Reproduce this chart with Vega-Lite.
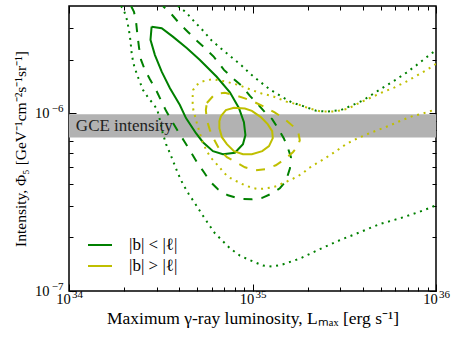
{
  "$schema": "https://vega.github.io/schema/vega-lite/v6.json",
  "width": 367,
  "height": 285,
  "autosize": {"type": "none"},
  "padding": {"left": 69, "top": 6, "right": 21, "bottom": 52},
  "background": "white",
  "config": {
    "view": {"stroke": "black", "strokeWidth": 1.5},
    "axis": {"domain": false, "grid": false, "tickColor": "black", "tickWidth": 1, "labelFont": "Liberation Serif", "labelFontSize": 14.5, "labelColor": "black", "labelFlush": false, "labelOverlap": false, "titleFont": "Liberation Serif", "titleFontSize": 17.5, "titleColor": "black", "titleFontWeight": "normal"},
    "legend": {"labelFont": "Liberation Serif", "labelFontSize": 17, "labelColor": "black"}
  },
  "datasets": {
    "band": [{"lo": 7.3e-7, "hi": 9.85e-7}],
    "note": [{"L": 1.09e34, "I": 8.45e-7, "text": "GCE intensity"}],
    "curves": [
      {"curve": "gs", "region": "|b| < |ℓ|", "style": "solid", "L": 2.82e34, "I": 3.06e-6},
      {"curve": "gs", "region": "|b| < |ℓ|", "style": "solid", "L": 3.20e34, "I": 3.00e-6},
      {"curve": "gs", "region": "|b| < |ℓ|", "style": "solid", "L": 3.68e34, "I": 2.69e-6},
      {"curve": "gs", "region": "|b| < |ℓ|", "style": "solid", "L": 4.38e34, "I": 2.32e-6},
      {"curve": "gs", "region": "|b| < |ℓ|", "style": "solid", "L": 5.17e34, "I": 1.99e-6},
      {"curve": "gs", "region": "|b| < |ℓ|", "style": "solid", "L": 6.38e34, "I": 1.60e-6},
      {"curve": "gs", "region": "|b| < |ℓ|", "style": "solid", "L": 7.53e34, "I": 1.31e-6},
      {"curve": "gs", "region": "|b| < |ℓ|", "style": "solid", "L": 8.43e34, "I": 1.07e-6},
      {"curve": "gs", "region": "|b| < |ℓ|", "style": "solid", "L": 8.98e34, "I": 8.90e-7},
      {"curve": "gs", "region": "|b| < |ℓ|", "style": "solid", "L": 9.15e34, "I": 7.52e-7},
      {"curve": "gs", "region": "|b| < |ℓ|", "style": "solid", "L": 8.87e34, "I": 6.69e-7},
      {"curve": "gs", "region": "|b| < |ℓ|", "style": "solid", "L": 8.02e34, "I": 5.99e-7},
      {"curve": "gs", "region": "|b| < |ℓ|", "style": "solid", "L": 6.90e34, "I": 5.87e-7},
      {"curve": "gs", "region": "|b| < |ℓ|", "style": "solid", "L": 6.09e34, "I": 6.11e-7},
      {"curve": "gs", "region": "|b| < |ℓ|", "style": "solid", "L": 5.37e34, "I": 6.86e-7},
      {"curve": "gs", "region": "|b| < |ℓ|", "style": "solid", "L": 4.92e34, "I": 7.71e-7},
      {"curve": "gs", "region": "|b| < |ℓ|", "style": "solid", "L": 4.34e34, "I": 9.37e-7},
      {"curve": "gs", "region": "|b| < |ℓ|", "style": "solid", "L": 4.02e34, "I": 1.11e-6},
      {"curve": "gs", "region": "|b| < |ℓ|", "style": "solid", "L": 3.55e34, "I": 1.38e-6},
      {"curve": "gs", "region": "|b| < |ℓ|", "style": "solid", "L": 3.20e34, "I": 1.71e-6},
      {"curve": "gs", "region": "|b| < |ℓ|", "style": "solid", "L": 2.94e34, "I": 2.12e-6},
      {"curve": "gs", "region": "|b| < |ℓ|", "style": "solid", "L": 2.78e34, "I": 2.58e-6},
      {"curve": "gs", "region": "|b| < |ℓ|", "style": "solid", "L": 2.82e34, "I": 3.06e-6},

      {"curve": "ys", "region": "|b| > |ℓ|", "style": "solid", "L": 6.73e34, "I": 9.62e-7},
      {"curve": "ys", "region": "|b| > |ℓ|", "style": "solid", "L": 7.16e34, "I": 1.04e-6},
      {"curve": "ys", "region": "|b| > |ℓ|", "style": "solid", "L": 7.92e34, "I": 1.07e-6},
      {"curve": "ys", "region": "|b| > |ℓ|", "style": "solid", "L": 9.09e34, "I": 1.06e-6},
      {"curve": "ys", "region": "|b| > |ℓ|", "style": "solid", "L": 9.92e34, "I": 1.03e-6},
      {"curve": "ys", "region": "|b| > |ℓ|", "style": "solid", "L": 1.11e35, "I": 9.50e-7},
      {"curve": "ys", "region": "|b| > |ℓ|", "style": "solid", "L": 1.21e35, "I": 8.67e-7},
      {"curve": "ys", "region": "|b| > |ℓ|", "style": "solid", "L": 1.28e35, "I": 7.92e-7},
      {"curve": "ys", "region": "|b| > |ℓ|", "style": "solid", "L": 1.29e35, "I": 7.23e-7},
      {"curve": "ys", "region": "|b| > |ℓ|", "style": "solid", "L": 1.23e35, "I": 6.52e-7},
      {"curve": "ys", "region": "|b| > |ℓ|", "style": "solid", "L": 1.13e35, "I": 6.11e-7},
      {"curve": "ys", "region": "|b| > |ℓ|", "style": "solid", "L": 9.92e34, "I": 5.87e-7},
      {"curve": "ys", "region": "|b| > |ℓ|", "style": "solid", "L": 8.87e34, "I": 5.87e-7},
      {"curve": "ys", "region": "|b| > |ℓ|", "style": "solid", "L": 7.92e34, "I": 6.11e-7},
      {"curve": "ys", "region": "|b| > |ℓ|", "style": "solid", "L": 7.25e34, "I": 6.69e-7},
      {"curve": "ys", "region": "|b| > |ℓ|", "style": "solid", "L": 6.81e34, "I": 7.32e-7},
      {"curve": "ys", "region": "|b| > |ℓ|", "style": "solid", "L": 6.60e34, "I": 8.23e-7},
      {"curve": "ys", "region": "|b| > |ℓ|", "style": "solid", "L": 6.60e34, "I": 9.01e-7},
      {"curve": "ys", "region": "|b| > |ℓ|", "style": "solid", "L": 6.73e34, "I": 9.62e-7},

      {"curve": "gd", "region": "|b| < |ℓ|", "style": "dashed", "L": 2.18e34, "I": 4.0e-6},
      {"curve": "gd", "region": "|b| < |ℓ|", "style": "dashed", "L": 2.26e34, "I": 3.71e-6},
      {"curve": "gd", "region": "|b| < |ℓ|", "style": "dashed", "L": 2.32e34, "I": 3.26e-6},
      {"curve": "gd", "region": "|b| < |ℓ|", "style": "dashed", "L": 2.36e34, "I": 2.75e-6},
      {"curve": "gd", "region": "|b| < |ℓ|", "style": "dashed", "L": 2.41e34, "I": 2.32e-6},
      {"curve": "gd", "region": "|b| < |ℓ|", "style": "dashed", "L": 2.47e34, "I": 1.99e-6},
      {"curve": "gd", "region": "|b| < |ℓ|", "style": "dashed", "L": 2.59e34, "I": 1.75e-6},
      {"curve": "gd", "region": "|b| < |ℓ|", "style": "dashed", "L": 2.76e34, "I": 1.55e-6},
      {"curve": "gd", "region": "|b| < |ℓ|", "style": "dashed", "L": 2.98e34, "I": 1.35e-6},
      {"curve": "gd", "region": "|b| < |ℓ|", "style": "dashed", "L": 3.17e34, "I": 1.18e-6},
      {"curve": "gd", "region": "|b| < |ℓ|", "style": "dashed", "L": 3.38e34, "I": 1.03e-6},
      {"curve": "gd", "region": "|b| < |ℓ|", "style": "dashed", "L": 3.64e34, "I": 9.01e-7},
      {"curve": "gd", "region": "|b| < |ℓ|", "style": "dashed", "L": 3.92e34, "I": 7.92e-7},
      {"curve": "gd", "region": "|b| < |ℓ|", "style": "dashed", "L": 4.28e34, "I": 6.86e-7},
      {"curve": "gd", "region": "|b| < |ℓ|", "style": "dashed", "L": 4.62e34, "I": 6.03e-7},
      {"curve": "gd", "region": "|b| < |ℓ|", "style": "dashed", "L": 4.98e34, "I": 5.30e-7},
      {"curve": "gd", "region": "|b| < |ℓ|", "style": "dashed", "L": 5.44e34, "I": 4.65e-7},
      {"curve": "gd", "region": "|b| < |ℓ|", "style": "dashed", "L": 5.86e34, "I": 4.14e-7},
      {"curve": "gd", "region": "|b| < |ℓ|", "style": "dashed", "L": 6.48e34, "I": 3.73e-7},
      {"curve": "gd", "region": "|b| < |ℓ|", "style": "dashed", "L": 7.35e34, "I": 3.45e-7},
      {"curve": "gd", "region": "|b| < |ℓ|", "style": "dashed", "L": 8.54e34, "I": 3.30e-7},
      {"curve": "gd", "region": "|b| < |ℓ|", "style": "dashed", "L": 9.92e34, "I": 3.28e-7},
      {"curve": "gd", "region": "|b| < |ℓ|", "style": "dashed", "L": 1.13e35, "I": 3.34e-7},
      {"curve": "gd", "region": "|b| < |ℓ|", "style": "dashed", "L": 1.28e35, "I": 3.54e-7},
      {"curve": "gd", "region": "|b| < |ℓ|", "style": "dashed", "L": 1.41e35, "I": 3.78e-7},
      {"curve": "gd", "region": "|b| < |ℓ|", "style": "dashed", "L": 1.52e35, "I": 4.14e-7},
      {"curve": "gd", "region": "|b| < |ℓ|", "style": "dashed", "L": 1.60e35, "I": 4.90e-7},
      {"curve": "gd", "region": "|b| < |ℓ|", "style": "dashed", "L": 1.62e35, "I": 5.65e-7},
      {"curve": "gd", "region": "|b| < |ℓ|", "style": "dashed", "L": 1.56e35, "I": 6.35e-7},
      {"curve": "gd", "region": "|b| < |ℓ|", "style": "dashed", "L": 1.48e35, "I": 7.23e-7},
      {"curve": "gd", "region": "|b| < |ℓ|", "style": "dashed", "L": 1.375e35, "I": 8.23e-7},
      {"curve": "gd", "region": "|b| < |ℓ|", "style": "dashed", "L": 1.28e35, "I": 9.25e-7},
      {"curve": "gd", "region": "|b| < |ℓ|", "style": "dashed", "L": 1.17e35, "I": 1.01e-6},
      {"curve": "gd", "region": "|b| < |ℓ|", "style": "dashed", "L": 1.07e35, "I": 1.12e-6},
      {"curve": "gd", "region": "|b| < |ℓ|", "style": "dashed", "L": 9.68e34, "I": 1.25e-6},
      {"curve": "gd", "region": "|b| < |ℓ|", "style": "dashed", "L": 8.76e34, "I": 1.42e-6},
      {"curve": "gd", "region": "|b| < |ℓ|", "style": "dashed", "L": 7.82e34, "I": 1.57e-6},
      {"curve": "gd", "region": "|b| < |ℓ|", "style": "dashed", "L": 6.99e34, "I": 1.75e-6},
      {"curve": "gd", "region": "|b| < |ℓ|", "style": "dashed", "L": 6.16e34, "I": 2.07e-6},
      {"curve": "gd", "region": "|b| < |ℓ|", "style": "dashed", "L": 5.44e34, "I": 2.35e-6},
      {"curve": "gd", "region": "|b| < |ℓ|", "style": "dashed", "L": 4.92e34, "I": 2.58e-6},
      {"curve": "gd", "region": "|b| < |ℓ|", "style": "dashed", "L": 4.45e34, "I": 2.86e-6},
      {"curve": "gd", "region": "|b| < |ℓ|", "style": "dashed", "L": 4.02e34, "I": 3.17e-6},
      {"curve": "gd", "region": "|b| < |ℓ|", "style": "dashed", "L": 3.64e34, "I": 3.57e-6},
      {"curve": "gd", "region": "|b| < |ℓ|", "style": "dashed", "L": 3.25e34, "I": 4.0e-6},

      {"curve": "yd", "region": "|b| > |ℓ|", "style": "dashed", "L": 5.64e34, "I": 1.14e-6},
      {"curve": "yd", "region": "|b| > |ℓ|", "style": "dashed", "L": 6.24e34, "I": 1.28e-6},
      {"curve": "yd", "region": "|b| > |ℓ|", "style": "dashed", "L": 7.07e34, "I": 1.30e-6},
      {"curve": "yd", "region": "|b| > |ℓ|", "style": "dashed", "L": 8.02e34, "I": 1.26e-6},
      {"curve": "yd", "region": "|b| > |ℓ|", "style": "dashed", "L": 9.09e34, "I": 1.21e-6},
      {"curve": "yd", "region": "|b| > |ℓ|", "style": "dashed", "L": 1.03e35, "I": 1.15e-6},
      {"curve": "yd", "region": "|b| > |ℓ|", "style": "dashed", "L": 1.17e35, "I": 1.08e-6},
      {"curve": "yd", "region": "|b| > |ℓ|", "style": "dashed", "L": 1.32e35, "I": 1.01e-6},
      {"curve": "yd", "region": "|b| > |ℓ|", "style": "dashed", "L": 1.50e35, "I": 9.25e-7},
      {"curve": "yd", "region": "|b| > |ℓ|", "style": "dashed", "L": 1.66e35, "I": 8.45e-7},
      {"curve": "yd", "region": "|b| > |ℓ|", "style": "dashed", "L": 1.78e35, "I": 7.72e-7},
      {"curve": "yd", "region": "|b| > |ℓ|", "style": "dashed", "L": 1.81e35, "I": 7.05e-7},
      {"curve": "yd", "region": "|b| > |ℓ|", "style": "dashed", "L": 1.77e35, "I": 6.52e-7},
      {"curve": "yd", "region": "|b| > |ℓ|", "style": "dashed", "L": 1.66e35, "I": 6.03e-7},
      {"curve": "yd", "region": "|b| > |ℓ|", "style": "dashed", "L": 1.50e35, "I": 5.51e-7},
      {"curve": "yd", "region": "|b| > |ℓ|", "style": "dashed", "L": 1.34e35, "I": 5.09e-7},
      {"curve": "yd", "region": "|b| > |ℓ|", "style": "dashed", "L": 1.17e35, "I": 4.84e-7},
      {"curve": "yd", "region": "|b| > |ℓ|", "style": "dashed", "L": 1.03e35, "I": 4.77e-7},
      {"curve": "yd", "region": "|b| > |ℓ|", "style": "dashed", "L": 9.09e34, "I": 4.96e-7},
      {"curve": "yd", "region": "|b| > |ℓ|", "style": "dashed", "L": 8.12e34, "I": 5.30e-7},
      {"curve": "yd", "region": "|b| > |ℓ|", "style": "dashed", "L": 7.25e34, "I": 5.65e-7},
      {"curve": "yd", "region": "|b| > |ℓ|", "style": "dashed", "L": 6.64e34, "I": 6.19e-7},
      {"curve": "yd", "region": "|b| > |ℓ|", "style": "dashed", "L": 6.16e34, "I": 7.14e-7},
      {"curve": "yd", "region": "|b| > |ℓ|", "style": "dashed", "L": 5.86e34, "I": 8.02e-7},
      {"curve": "yd", "region": "|b| > |ℓ|", "style": "dashed", "L": 5.64e34, "I": 9.13e-7},
      {"curve": "yd", "region": "|b| > |ℓ|", "style": "dashed", "L": 5.57e34, "I": 1.04e-6},
      {"curve": "yd", "region": "|b| > |ℓ|", "style": "dashed", "L": 5.64e34, "I": 1.14e-6},

      {"curve": "gt1", "region": "|b| < |ℓ|", "style": "dotted", "L": 1.92e34, "I": 4.0e-6},
      {"curve": "gt1", "region": "|b| < |ℓ|", "style": "dotted", "L": 1.99e34, "I": 3.80e-6},
      {"curve": "gt1", "region": "|b| < |ℓ|", "style": "dotted", "L": 2.07e34, "I": 3.34e-6},
      {"curve": "gt1", "region": "|b| < |ℓ|", "style": "dotted", "L": 2.12e34, "I": 2.94e-6},
      {"curve": "gt1", "region": "|b| < |ℓ|", "style": "dotted", "L": 2.16e34, "I": 2.58e-6},
      {"curve": "gt1", "region": "|b| < |ℓ|", "style": "dotted", "L": 2.20e34, "I": 2.12e-6},
      {"curve": "gt1", "region": "|b| < |ℓ|", "style": "dotted", "L": 2.27e34, "I": 1.82e-6},
      {"curve": "gt1", "region": "|b| < |ℓ|", "style": "dotted", "L": 2.39e34, "I": 1.57e-6},
      {"curve": "gt1", "region": "|b| < |ℓ|", "style": "dotted", "L": 2.53e34, "I": 1.35e-6},
      {"curve": "gt1", "region": "|b| < |ℓ|", "style": "dotted", "L": 2.73e34, "I": 1.20e-6},
      {"curve": "gt1", "region": "|b| < |ℓ|", "style": "dotted", "L": 2.90e34, "I": 1.12e-6},
      {"curve": "gt1", "region": "|b| < |ℓ|", "style": "dotted", "L": 3.03e34, "I": 1.04e-6},
      {"curve": "gt1", "region": "|b| < |ℓ|", "style": "dotted", "L": 3.13e34, "I": 9.13e-7},
      {"curve": "gt1", "region": "|b| < |ℓ|", "style": "dotted", "L": 3.23e34, "I": 7.82e-7},
      {"curve": "gt1", "region": "|b| < |ℓ|", "style": "dotted", "L": 3.38e34, "I": 6.69e-7},
      {"curve": "gt1", "region": "|b| < |ℓ|", "style": "dotted", "L": 3.55e34, "I": 5.95e-7},
      {"curve": "gt1", "region": "|b| < |ℓ|", "style": "dotted", "L": 3.73e34, "I": 5.23e-7},
      {"curve": "gt1", "region": "|b| < |ℓ|", "style": "dotted", "L": 3.92e34, "I": 4.59e-7},
      {"curve": "gt1", "region": "|b| < |ℓ|", "style": "dotted", "L": 4.18e34, "I": 3.98e-7},
      {"curve": "gt1", "region": "|b| < |ℓ|", "style": "dotted", "L": 4.50e34, "I": 3.50e-7},
      {"curve": "gt1", "region": "|b| < |ℓ|", "style": "dotted", "L": 4.86e34, "I": 3.11e-7},
      {"curve": "gt1", "region": "|b| < |ℓ|", "style": "dotted", "L": 5.28e34, "I": 2.72e-7},
      {"curve": "gt1", "region": "|b| < |ℓ|", "style": "dotted", "L": 5.74e34, "I": 2.39e-7},
      {"curve": "gt1", "region": "|b| < |ℓ|", "style": "dotted", "L": 6.24e34, "I": 2.11e-7},
      {"curve": "gt1", "region": "|b| < |ℓ|", "style": "dotted", "L": 6.81e34, "I": 1.93e-7},
      {"curve": "gt1", "region": "|b| < |ℓ|", "style": "dotted", "L": 7.53e34, "I": 1.74e-7},
      {"curve": "gt1", "region": "|b| < |ℓ|", "style": "dotted", "L": 8.54e34, "I": 1.58e-7},
      {"curve": "gt1", "region": "|b| < |ℓ|", "style": "dotted", "L": 9.68e34, "I": 1.49e-7},
      {"curve": "gt1", "region": "|b| < |ℓ|", "style": "dotted", "L": 1.14e35, "I": 1.39e-7},
      {"curve": "gt1", "region": "|b| < |ℓ|", "style": "dotted", "L": 1.28e35, "I": 1.37e-7},
      {"curve": "gt1", "region": "|b| < |ℓ|", "style": "dotted", "L": 1.46e35, "I": 1.41e-7},
      {"curve": "gt1", "region": "|b| < |ℓ|", "style": "dotted", "L": 1.81e35, "I": 1.52e-7},
      {"curve": "gt1", "region": "|b| < |ℓ|", "style": "dotted", "L": 2.33e35, "I": 1.72e-7},
      {"curve": "gt1", "region": "|b| < |ℓ|", "style": "dotted", "L": 2.99e35, "I": 1.93e-7},
      {"curve": "gt1", "region": "|b| < |ℓ|", "style": "dotted", "L": 3.85e35, "I": 2.14e-7},
      {"curve": "gt1", "region": "|b| < |ℓ|", "style": "dotted", "L": 4.94e35, "I": 2.38e-7},
      {"curve": "gt1", "region": "|b| < |ℓ|", "style": "dotted", "L": 6.35e35, "I": 2.56e-7},
      {"curve": "gt1", "region": "|b| < |ℓ|", "style": "dotted", "L": 8.16e35, "I": 2.79e-7},
      {"curve": "gt1", "region": "|b| < |ℓ|", "style": "dotted", "L": 1.0e36, "I": 3.03e-7},

      {"curve": "gt2", "region": "|b| < |ℓ|", "style": "dotted", "L": 3.92e34, "I": 4.0e-6},
      {"curve": "gt2", "region": "|b| < |ℓ|", "style": "dotted", "L": 4.34e34, "I": 3.69e-6},
      {"curve": "gt2", "region": "|b| < |ℓ|", "style": "dotted", "L": 4.86e34, "I": 3.24e-6},
      {"curve": "gt2", "region": "|b| < |ℓ|", "style": "dotted", "L": 5.39e34, "I": 2.90e-6},
      {"curve": "gt2", "region": "|b| < |ℓ|", "style": "dotted", "L": 5.99e34, "I": 2.56e-6},
      {"curve": "gt2", "region": "|b| < |ℓ|", "style": "dotted", "L": 6.79e34, "I": 2.29e-6},
      {"curve": "gt2", "region": "|b| < |ℓ|", "style": "dotted", "L": 7.69e34, "I": 2.06e-6},
      {"curve": "gt2", "region": "|b| < |ℓ|", "style": "dotted", "L": 8.72e34, "I": 1.85e-6},
      {"curve": "gt2", "region": "|b| < |ℓ|", "style": "dotted", "L": 9.68e34, "I": 1.67e-6},
      {"curve": "gt2", "region": "|b| < |ℓ|", "style": "dotted", "L": 1.10e35, "I": 1.50e-6},
      {"curve": "gt2", "region": "|b| < |ℓ|", "style": "dotted", "L": 1.24e35, "I": 1.36e-6},
      {"curve": "gt2", "region": "|b| < |ℓ|", "style": "dotted", "L": 1.44e35, "I": 1.24e-6},
      {"curve": "gt2", "region": "|b| < |ℓ|", "style": "dotted", "L": 1.63e35, "I": 1.15e-6},
      {"curve": "gt2", "region": "|b| < |ℓ|", "style": "dotted", "L": 1.91e35, "I": 1.09e-6},
      {"curve": "gt2", "region": "|b| < |ℓ|", "style": "dotted", "L": 2.23e35, "I": 1.03e-6},
      {"curve": "gt2", "region": "|b| < |ℓ|", "style": "dotted", "L": 2.57e35, "I": 1.02e-6},
      {"curve": "gt2", "region": "|b| < |ℓ|", "style": "dotted", "L": 3.03e35, "I": 1.04e-6},
      {"curve": "gt2", "region": "|b| < |ℓ|", "style": "dotted", "L": 3.52e35, "I": 1.11e-6},
      {"curve": "gt2", "region": "|b| < |ℓ|", "style": "dotted", "L": 4.01e35, "I": 1.18e-6},
      {"curve": "gt2", "region": "|b| < |ℓ|", "style": "dotted", "L": 4.58e35, "I": 1.29e-6},
      {"curve": "gt2", "region": "|b| < |ℓ|", "style": "dotted", "L": 5.26e35, "I": 1.41e-6},
      {"curve": "gt2", "region": "|b| < |ℓ|", "style": "dotted", "L": 6.04e35, "I": 1.54e-6},
      {"curve": "gt2", "region": "|b| < |ℓ|", "style": "dotted", "L": 6.91e35, "I": 1.69e-6},
      {"curve": "gt2", "region": "|b| < |ℓ|", "style": "dotted", "L": 7.83e35, "I": 1.86e-6},
      {"curve": "gt2", "region": "|b| < |ℓ|", "style": "dotted", "L": 8.88e35, "I": 2.06e-6},
      {"curve": "gt2", "region": "|b| < |ℓ|", "style": "dotted", "L": 1.0e36, "I": 2.26e-6},

      {"curve": "yt", "region": "|b| > |ℓ|", "style": "dotted", "L": 1.0e36, "I": 1.89e-6},
      {"curve": "yt", "region": "|b| > |ℓ|", "style": "dotted", "L": 8.99e35, "I": 1.76e-6},
      {"curve": "yt", "region": "|b| > |ℓ|", "style": "dotted", "L": 7.83e35, "I": 1.62e-6},
      {"curve": "yt", "region": "|b| > |ℓ|", "style": "dotted", "L": 6.85e35, "I": 1.50e-6},
      {"curve": "yt", "region": "|b| > |ℓ|", "style": "dotted", "L": 5.91e35, "I": 1.39e-6},
      {"curve": "yt", "region": "|b| > |ℓ|", "style": "dotted", "L": 5.11e35, "I": 1.31e-6},
      {"curve": "yt", "region": "|b| > |ℓ|", "style": "dotted", "L": 4.40e35, "I": 1.22e-6},
      {"curve": "yt", "region": "|b| > |ℓ|", "style": "dotted", "L": 3.81e35, "I": 1.14e-6},
      {"curve": "yt", "region": "|b| > |ℓ|", "style": "dotted", "L": 3.32e35, "I": 1.06e-6},
      {"curve": "yt", "region": "|b| > |ℓ|", "style": "dotted", "L": 2.81e35, "I": 1.02e-6},
      {"curve": "yt", "region": "|b| > |ℓ|", "style": "dotted", "L": 2.38e35, "I": 1.02e-6},
      {"curve": "yt", "region": "|b| > |ℓ|", "style": "dotted", "L": 2.05e35, "I": 1.06e-6},
      {"curve": "yt", "region": "|b| > |ℓ|", "style": "dotted", "L": 1.81e35, "I": 1.11e-6},
      {"curve": "yt", "region": "|b| > |ℓ|", "style": "dotted", "L": 1.53e35, "I": 1.16e-6},
      {"curve": "yt", "region": "|b| > |ℓ|", "style": "dotted", "L": 1.30e35, "I": 1.24e-6},
      {"curve": "yt", "region": "|b| > |ℓ|", "style": "dotted", "L": 1.12e35, "I": 1.29e-6},
      {"curve": "yt", "region": "|b| > |ℓ|", "style": "dotted", "L": 9.68e34, "I": 1.36e-6},
      {"curve": "yt", "region": "|b| > |ℓ|", "style": "dotted", "L": 8.36e34, "I": 1.44e-6},
      {"curve": "yt", "region": "|b| > |ℓ|", "style": "dotted", "L": 7.23e34, "I": 1.50e-6},
      {"curve": "yt", "region": "|b| > |ℓ|", "style": "dotted", "L": 6.11e34, "I": 1.55e-6},
      {"curve": "yt", "region": "|b| > |ℓ|", "style": "dotted", "L": 5.62e34, "I": 1.53e-6},
      {"curve": "yt", "region": "|b| > |ℓ|", "style": "dotted", "L": 5.28e34, "I": 1.50e-6},
      {"curve": "yt", "region": "|b| > |ℓ|", "style": "dotted", "L": 4.96e34, "I": 1.44e-6},
      {"curve": "yt", "region": "|b| > |ℓ|", "style": "dotted", "L": 4.75e34, "I": 1.35e-6},
      {"curve": "yt", "region": "|b| > |ℓ|", "style": "dotted", "L": 4.72e34, "I": 1.24e-6},
      {"curve": "yt", "region": "|b| > |ℓ|", "style": "dotted", "L": 4.72e34, "I": 1.13e-6},
      {"curve": "yt", "region": "|b| > |ℓ|", "style": "dotted", "L": 4.76e34, "I": 1.04e-6},
      {"curve": "yt", "region": "|b| > |ℓ|", "style": "dotted", "L": 4.86e34, "I": 9.62e-7},
      {"curve": "yt", "region": "|b| > |ℓ|", "style": "dotted", "L": 4.98e34, "I": 8.75e-7},
      {"curve": "yt", "region": "|b| > |ℓ|", "style": "dotted", "L": 5.17e34, "I": 7.68e-7},
      {"curve": "yt", "region": "|b| > |ℓ|", "style": "dotted", "L": 5.37e34, "I": 6.78e-7},
      {"curve": "yt", "region": "|b| > |ℓ|", "style": "dotted", "L": 5.62e34, "I": 6.15e-7},
      {"curve": "yt", "region": "|b| > |ℓ|", "style": "dotted", "L": 5.90e34, "I": 5.65e-7},
      {"curve": "yt", "region": "|b| > |ℓ|", "style": "dotted", "L": 6.24e34, "I": 5.30e-7},
      {"curve": "yt", "region": "|b| > |ℓ|", "style": "dotted", "L": 6.59e34, "I": 4.98e-7},
      {"curve": "yt", "region": "|b| > |ℓ|", "style": "dotted", "L": 6.92e34, "I": 4.67e-7},
      {"curve": "yt", "region": "|b| > |ℓ|", "style": "dotted", "L": 7.37e34, "I": 4.38e-7},
      {"curve": "yt", "region": "|b| > |ℓ|", "style": "dotted", "L": 7.85e34, "I": 4.23e-7},
      {"curve": "yt", "region": "|b| > |ℓ|", "style": "dotted", "L": 8.47e34, "I": 4.07e-7},
      {"curve": "yt", "region": "|b| > |ℓ|", "style": "dotted", "L": 9.09e34, "I": 3.93e-7},
      {"curve": "yt", "region": "|b| > |ℓ|", "style": "dotted", "L": 9.89e34, "I": 3.81e-7},
      {"curve": "yt", "region": "|b| > |ℓ|", "style": "dotted", "L": 1.05e35, "I": 3.76e-7},
      {"curve": "yt", "region": "|b| > |ℓ|", "style": "dotted", "L": 1.14e35, "I": 3.76e-7},
      {"curve": "yt", "region": "|b| > |ℓ|", "style": "dotted", "L": 1.24e35, "I": 3.80e-7},
      {"curve": "yt", "region": "|b| > |ℓ|", "style": "dotted", "L": 1.35e35, "I": 3.88e-7},
      {"curve": "yt", "region": "|b| > |ℓ|", "style": "dotted", "L": 1.45e35, "I": 4.02e-7},
      {"curve": "yt", "region": "|b| > |ℓ|", "style": "dotted", "L": 1.55e35, "I": 4.14e-7},
      {"curve": "yt", "region": "|b| > |ℓ|", "style": "dotted", "L": 1.67e35, "I": 4.29e-7},
      {"curve": "yt", "region": "|b| > |ℓ|", "style": "dotted", "L": 1.77e35, "I": 4.42e-7},
      {"curve": "yt", "region": "|b| > |ℓ|", "style": "dotted", "L": 1.89e35, "I": 4.61e-7},
      {"curve": "yt", "region": "|b| > |ℓ|", "style": "dotted", "L": 2.01e35, "I": 4.88e-7},
      {"curve": "yt", "region": "|b| > |ℓ|", "style": "dotted", "L": 2.23e35, "I": 5.21e-7},
      {"curve": "yt", "region": "|b| > |ℓ|", "style": "dotted", "L": 2.48e35, "I": 5.56e-7},
      {"curve": "yt", "region": "|b| > |ℓ|", "style": "dotted", "L": 2.81e35, "I": 6.05e-7},
      {"curve": "yt", "region": "|b| > |ℓ|", "style": "dotted", "L": 3.25e35, "I": 6.71e-7},
      {"curve": "yt", "region": "|b| > |ℓ|", "style": "dotted", "L": 3.75e35, "I": 7.23e-7},
      {"curve": "yt", "region": "|b| > |ℓ|", "style": "dotted", "L": 4.36e35, "I": 7.72e-7},
      {"curve": "yt", "region": "|b| > |ℓ|", "style": "dotted", "L": 5.05e35, "I": 8.18e-7},
      {"curve": "yt", "region": "|b| > |ℓ|", "style": "dotted", "L": 5.74e35, "I": 8.61e-7},
      {"curve": "yt", "region": "|b| > |ℓ|", "style": "dotted", "L": 6.43e35, "I": 9.07e-7},
      {"curve": "yt", "region": "|b| > |ℓ|", "style": "dotted", "L": 7.47e35, "I": 9.62e-7},
      {"curve": "yt", "region": "|b| > |ℓ|", "style": "dotted", "L": 8.51e35, "I": 9.96e-7},
      {"curve": "yt", "region": "|b| > |ℓ|", "style": "dotted", "L": 1.0e36, "I": 1.05e-6}
    ]
  },
  "resolve": {"axis": {"x": "independent", "y": "independent"}},
  "layer": [
    {
      "data": {"name": "band"},
      "mark": {"type": "rect", "color": "#b2b2b2"},
      "encoding": {
        "x": {"datum": 1e34, "type": "quantitative", "scale": {"type": "log", "domain": [1e34, 1e36], "nice": false},
          "axis": {"orient": "bottom", "values": [1e34, 1e35, 1e36], "ticks": false, "labelFontSize": 11, "labelBaseline": "middle", "labelPadding": 3, "labelOffset": 8, "labelExpr": "datum.value < 5e34 ? '34' : datum.value < 5e35 ? '35' : '36'", "title": null}},
        "x2": {"datum": 1e36},
        "y": {"field": "lo", "type": "quantitative", "scale": {"type": "log", "domain": [1e-7, 4e-6], "nice": false},
          "axis": {"orient": "left", "values": [1e-7, 1e-6], "ticks": false, "labelFontSize": 11, "labelPadding": 6, "labelOffset": -4.5, "labelExpr": "datum.value < 5e-7 ? '−7' : '−6'", "title": null}},
        "y2": {"field": "hi"}
      }
    },
    {
      "data": {"name": "curves"},
      "transform": [{"filter": "datum.style == 'solid'"}],
      "mark": {"type": "line", "strokeWidth": 2, "clip": true},
      "encoding": {
        "x": {"field": "L", "type": "quantitative", "scale": {"type": "log", "domain": [1e34, 1e36], "nice": false},
          "axis": {"orient": "bottom", "values": [1e34, 1e35, 1e36], "tickSize": -7, "labelBaseline": "middle", "labelPadding": 15, "labelOffset": -6, "labelExpr": "'10'", "title": "Maximum γ-ray luminosity, Lₘₐₓ [erg s⁻¹]", "titlePadding": 4}},
        "y": {"field": "I", "type": "quantitative", "scale": {"type": "log", "domain": [1e-7, 4e-6], "nice": false},
          "axis": {"orient": "left", "values": [1e-7, 1e-6], "tickSize": -7, "labelPadding": 27, "labelExpr": "'10'", "title": "Intensity, Φ₅ [GeV⁻¹cm⁻²s⁻¹sr⁻¹]", "titleFontSize": 15.5, "titlePadding": 6}},
        "color": {"field": "region", "type": "nominal", "scale": {"domain": ["|b| < |ℓ|", "|b| > |ℓ|"], "range": ["#008000", "#bfbf00"]},
          "legend": {"orient": "none", "legendX": 18, "legendY": 226, "title": null, "symbolType": "stroke", "symbolSize": 576, "symbolStrokeWidth": 2, "labelOffset": 16, "rowPadding": 0, "padding": 0}},
        "detail": {"field": "curve"},
        "order": {"value": null}
      }
    },
    {
      "data": {"name": "curves"},
      "transform": [{"filter": "datum.style == 'dashed'"}],
      "mark": {"type": "line", "strokeWidth": 2, "strokeDash": [9, 9], "clip": true},
      "encoding": {
        "x": {"field": "L", "type": "quantitative", "scale": {"type": "log", "domain": [1e34, 1e36], "nice": false},
          "axis": {"orient": "top", "values": [1e34, 1e35, 1e36], "tickSize": -7, "labels": false, "title": null}},
        "y": {"field": "I", "type": "quantitative", "scale": {"type": "log", "domain": [1e-7, 4e-6], "nice": false},
          "axis": {"orient": "right", "values": [1e-7, 1e-6], "tickSize": -7, "labels": false, "title": null}},
        "color": {"field": "region", "type": "nominal", "scale": {"domain": ["|b| < |ℓ|", "|b| > |ℓ|"], "range": ["#008000", "#bfbf00"]}},
        "detail": {"field": "curve"},
        "order": {"value": null}
      }
    },
    {
      "data": {"name": "curves"},
      "transform": [{"filter": "datum.style == 'dotted'"}],
      "mark": {"type": "line", "strokeWidth": 2, "strokeDash": [2, 4.7], "clip": true},
      "encoding": {
        "x": {"field": "L", "type": "quantitative", "scale": {"type": "log", "domain": [1e34, 1e36], "nice": false},
          "axis": {"orient": "bottom", "values": [2e34, 3e34, 4e34, 5e34, 6e34, 7e34, 8e34, 9e34, 2e35, 3e35, 4e35, 5e35, 6e35, 7e35, 8e35, 9e35], "tickSize": -4, "labels": false, "title": null}},
        "y": {"field": "I", "type": "quantitative", "scale": {"type": "log", "domain": [1e-7, 4e-6], "nice": false},
          "axis": {"orient": "left", "values": [2e-7, 3e-7, 4e-7, 5e-7, 6e-7, 7e-7, 8e-7, 9e-7, 2e-6, 3e-6], "tickSize": -4, "labels": false, "title": null}},
        "color": {"field": "region", "type": "nominal", "scale": {"domain": ["|b| < |ℓ|", "|b| > |ℓ|"], "range": ["#008000", "#bfbf00"]}},
        "detail": {"field": "curve"},
        "order": {"value": null}
      }
    },
    {
      "data": {"name": "note"},
      "mark": {"type": "text", "align": "left", "baseline": "middle", "font": "Liberation Serif", "fontSize": 17, "color": "#222222"},
      "encoding": {
        "x": {"field": "L", "type": "quantitative", "scale": {"type": "log", "domain": [1e34, 1e36], "nice": false},
          "axis": {"orient": "top", "values": [2e34, 3e34, 4e34, 5e34, 6e34, 7e34, 8e34, 9e34, 2e35, 3e35, 4e35, 5e35, 6e35, 7e35, 8e35, 9e35], "tickSize": -4, "labels": false, "title": null}},
        "y": {"field": "I", "type": "quantitative", "scale": {"type": "log", "domain": [1e-7, 4e-6], "nice": false},
          "axis": {"orient": "right", "values": [2e-7, 3e-7, 4e-7, 5e-7, 6e-7, 7e-7, 8e-7, 9e-7, 2e-6, 3e-6], "tickSize": -4, "labels": false, "title": null}},
        "text": {"field": "text"}
      }
    }
  ]
}
